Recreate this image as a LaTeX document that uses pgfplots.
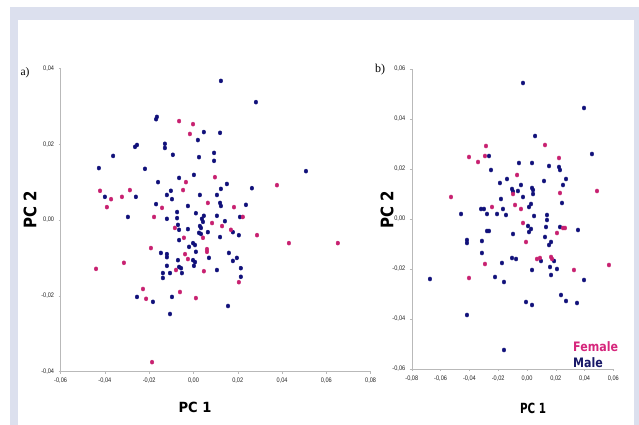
\documentclass[border=0pt]{standalone}
\usepackage{fontspec}
\usepackage{graphicx}
\usepackage{pgfplots}
\pgfplotsset{compat=1.18}
\setmainfont{Liberation Serif}
\newfontfamily\tickfont{Liberation Sans}[FakeStretch=0.85]
\newfontfamily\boldsans{DejaVu Sans}[FakeStretch=0.85]
\newfontfamily\boldsansN{DejaVu Sans}
\definecolor{lav}{RGB}{220,224,238}
\definecolor{fem}{RGB}{200,32,112}
\definecolor{mal}{RGB}{16,16,122}
\definecolor{femleg}{RGB}{214,38,124}
\definecolor{malleg}{RGB}{24,24,104}
\definecolor{axgray}{RGB}{185,185,185}
\pgfplotsset{
  pcastyle/.style={
    scale only axis,
    axis lines*=left,
    axis line style={axgray, line width=0.6pt},
    tick style={axgray, line width=0.5pt},
    tick align=outside,
    major tick length=2pt,
    clip=false,
    scaled ticks=false,
    /pgf/number format/assume math mode=true,
    /pgf/number format/.cd, fixed, fixed zerofill, precision=2, use comma,
    /pgfplots/.cd,
    tick label style={font=\tickfont\fontsize{6.6}{7.5}\selectfont, text=black!85},
    xticklabel style={yshift=-1pt},
    yticklabel style={xshift=-1pt},
  },
  fm/.style={only marks, mark=*, mark size=1.8pt, color=fem, mark options={yscale=1.15, draw=fem, fill=fem}},
  ml/.style={only marks, mark=*, mark size=1.8pt, color=mal, mark options={yscale=1.15, draw=mal, fill=mal}},
}
\begin{document}
\begin{tikzpicture}[x=1pt,y=1pt]
\fill[white] (0,0) rectangle (639,425);
\fill[lav] (10,0) rectangle (639,418);
\fill[white] (18,0) rectangle (634,405);
\useasboundingbox (0,0) rectangle (639,425);

% ---------------- panel a ----------------
\begin{axis}[pcastyle,
  at={(60.6pt,53.4pt)}, anchor=south west,
  width=310pt, height=303.2pt,
  xmin=-0.06, xmax=0.08, ymin=-0.04, ymax=0.04,
  xtick={-0.06,-0.04,-0.02,0,0.02,0.04,0.06,0.08},
  ytick={-0.04,-0.02,0,0.02,0.04},
]
\addplot[ml] coordinates {
(0.0124,0.0367) (0.0282,0.0311) (0.0508,0.0129) (-0.0169,0.0266) (-0.0165,0.0272)
(0.0047,0.0232) (0.0120,0.0230) (0.0020,0.0211) (-0.0264,0.0193) (-0.0255,0.0198)
(-0.0129,0.0201) (-0.0129,0.0190) (-0.0093,0.0172) (0.0025,0.0166) (0.0093,0.0177)
(0.0093,0.0156) (-0.0363,0.0169) (-0.0427,0.0137) (-0.0219,0.0135) (0.0002,0.0119)
(-0.0065,0.0111) (-0.0160,0.0100) (0.0151,0.0095) (0.0124,0.0082) (0.0264,0.0084)
(-0.0260,0.0061) (-0.0400,0.0061) (-0.0102,0.0077) (-0.0120,0.0066) (-0.0097,0.0055)
(0.0029,0.0066) (0.0106,0.0066) (-0.0169,0.0042) (-0.0025,0.0037) (0.0120,0.0045)
(0.0124,0.0037) (0.0237,0.0040) (-0.0296,0.0008) (-0.0120,0.0003) (-0.0074,0.0021)
(-0.0074,0.0005) (0.0011,0.0018) (0.0038,0.0003) (0.0047,0.0011) (0.0106,0.0011)
(0.0142,-0.0003) (0.0210,0.0008) (-0.0070,-0.0013) (-0.0065,-0.0026) (-0.0025,-0.0024)
(0.0029,-0.0016) (0.0034,-0.0021) (0.0043,-0.0005) (0.0178,-0.0032) (0.0205,-0.0040)
(0.0025,-0.0034) (0.0034,-0.0037) (0.0065,-0.0032) (-0.0065,-0.0053) (0.0120,-0.0045)
(-0.0020,-0.0071) (-0.0002,-0.0061) (0.0007,-0.0066) (0.0011,-0.0084) (-0.0147,-0.0087)
(-0.0120,-0.0090) (-0.0120,-0.0098) (-0.0002,-0.0106) (0.0007,-0.0111) (-0.0070,-0.0106)
(0.0160,-0.0087) (0.0070,-0.0100) (0.0196,-0.0100) (0.0178,-0.0108) (-0.0120,-0.0121)
(-0.0065,-0.0124) (-0.0056,-0.0127) (-0.0052,-0.0140) (0.0002,-0.0121) (0.0106,-0.0132)
(-0.0138,-0.0140) (-0.0138,-0.0153) (-0.0106,-0.0140) (0.0214,-0.0127) (0.0214,-0.0150)
(-0.0255,-0.0203) (-0.0183,-0.0216) (-0.0097,-0.0203) (0.0156,-0.0227) (-0.0106,-0.0248)
};
\addplot[fm] coordinates {
(-0.0065,0.0261) (-0.0002,0.0253) (-0.0016,0.0227) (-0.0034,0.0100) (0.0097,0.0113)
(-0.0422,0.0077) (-0.0287,0.0079) (-0.0047,0.0079) (-0.0323,0.0061) (-0.0372,0.0055)
(-0.0391,0.0034) (-0.0142,0.0032) (0.0065,0.0045) (0.0183,0.0034) (0.0377,0.0092)
(-0.0178,0.0008) (0.0223,0.0008) (-0.0084,-0.0021) (0.0084,-0.0008) (0.0129,-0.0016)
(0.0169,-0.0026) (0.0287,-0.0040) (-0.0043,-0.0047) (0.0043,-0.0047) (-0.0192,-0.0074)
(0.0061,-0.0077) (0.0061,-0.0084) (-0.0038,-0.0090) (-0.0025,-0.0103) (-0.0314,-0.0113)
(-0.0079,-0.0132) (0.0047,-0.0135) (0.0205,-0.0164) (-0.0440,-0.0129) (-0.0228,-0.0182)
(-0.0061,-0.0190) (-0.0214,-0.0208) (0.0011,-0.0206) (0.0431,-0.0061) (0.0652,-0.0061)
(-0.0187,-0.0375)
};
\end{axis}

% ---------------- panel b ----------------
\begin{axis}[pcastyle,
  at={(411.8pt,56pt)}, anchor=south west,
  width=201.6pt, height=300pt,
  xmin=-0.08, xmax=0.06, ymin=-0.06, ymax=0.06,
  xtick={-0.08,-0.06,-0.04,-0.02,0,0.02,0.04,0.06},
  ytick={-0.06,-0.04,-0.02,0,0.02,0.04,0.06},
]
\addplot[ml] coordinates {
(-0.0028,0.0544) (0.0396,0.0444) (0.0056,0.0332) (-0.0264,0.0252) (0.0451,0.0260)
(-0.0250,0.0196) (-0.0056,0.0224) (0.0035,0.0224) (0.0153,0.0212) (0.0222,0.0208)
(0.0229,0.0196) (-0.0139,0.0160) (-0.0188,0.0144) (-0.0042,0.0136) (0.0271,0.0160)
(0.0250,0.0136) (0.0118,0.0152) (-0.0104,0.0120) (-0.0097,0.0110) (-0.0063,0.0112)
(0.0035,0.0124) (0.0042,0.0116) (0.0042,0.0100) (-0.0028,0.0088) (-0.0181,0.0080)
(0.0243,0.0064) (-0.0319,0.0040) (-0.0299,0.0040) (-0.0167,0.0040) (0.0014,0.0048)
(0.0028,0.0060) (-0.0278,0.0020) (-0.0208,0.0020) (-0.0146,0.0016) (-0.0458,0.0020)
(0.0049,0.0012) (0.0139,0.0016) (0.0139,-0.0004) (0.0007,-0.0028) (0.0028,-0.0040)
(0.0014,-0.0052) (0.0132,-0.0032) (0.0229,-0.0032) (0.0354,-0.0044) (-0.0278,-0.0048)
(-0.0264,-0.0048) (-0.0097,-0.0060) (0.0125,-0.0072) (-0.0417,-0.0084) (-0.0417,-0.0096)
(-0.0313,-0.0088) (0.0167,-0.0092) (0.0153,-0.0104) (-0.0313,-0.0136) (-0.0104,-0.0156)
(-0.0076,-0.0160) (0.0097,-0.0168) (0.0188,-0.0168) (-0.0174,-0.0176) (0.0160,-0.0192)
(0.0208,-0.0200) (0.0035,-0.0204) (0.0167,-0.0224) (-0.0222,-0.0232) (-0.0160,-0.0252)
(0.0396,-0.0244) (-0.0674,-0.0240) (0.0236,-0.0304) (0.0271,-0.0328) (0.0347,-0.0336)
(-0.0007,-0.0332) (0.0035,-0.0344) (-0.0417,-0.0384) (-0.0160,-0.0524)
};
\addplot[fm] coordinates {
(-0.0285,0.0292) (0.0125,0.0296) (-0.0403,0.0248) (-0.0292,0.0252) (-0.0340,0.0228)
(0.0222,0.0244) (-0.0069,0.0176) (0.0229,0.0104) (0.0486,0.0112) (-0.0528,0.0088)
(-0.0097,0.0100) (-0.0243,0.0048) (-0.0083,0.0056) (-0.0042,0.0040) (-0.0028,-0.0016)
(0.0250,-0.0036) (0.0264,-0.0036) (0.0208,-0.0056) (-0.0007,-0.0092) (0.0069,-0.0160)
(0.0090,-0.0156) (0.0167,-0.0152) (0.0174,-0.0160) (-0.0292,-0.0180) (0.0326,-0.0204)
(0.0569,-0.0184) (-0.0403,-0.0236)
};
\end{axis}

% ---------------- labels ----------------
\node at (195,18) {\boldsans\bfseries\fontsize{14}{16}\selectfont\scalebox{1.1}[1]{PC 1}};
\node at (533,17) {\boldsans\bfseries\fontsize{14}{16}\selectfont\scalebox{0.87}[1]{PC 1}};
\node[rotate=90] at (30,215) {\boldsansN\bfseries\fontsize{15}{17}\selectfont\scalebox{1}[1.15]{PC 2}};
\node[rotate=90] at (387,215) {\boldsansN\bfseries\fontsize{15}{17}\selectfont\scalebox{1}[1.15]{PC 2}};
\node at (25,352) {\fontsize{11.5}{12}\selectfont a)};
\node at (380,355) {\fontsize{12}{13}\selectfont b)};
\node[anchor=west, inner sep=0pt, text=femleg] at (573,78) {\boldsans\bfseries\fontsize{13}{14}\selectfont Female};
\node[anchor=west, inner sep=0pt, text=malleg] at (573,62) {\boldsans\bfseries\fontsize{13}{14}\selectfont Male};
\end{tikzpicture}
\end{document}
